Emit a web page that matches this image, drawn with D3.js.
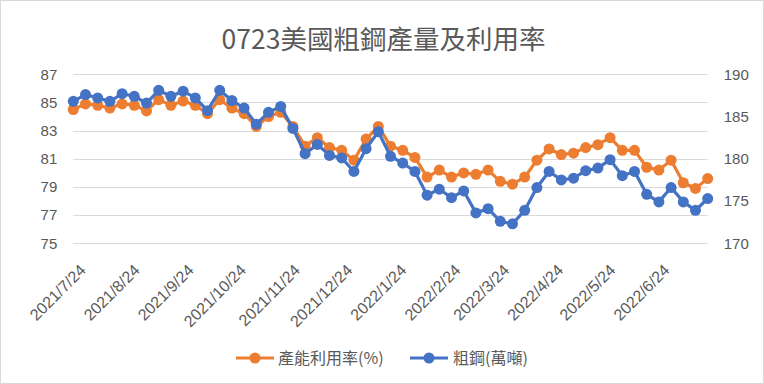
<!DOCTYPE html>
<html>
<head>
<meta charset="utf-8">
<script src="https://cdn.jsdelivr.net/npm/d3@7"></script>
<style>
  html, body { margin: 0; padding: 0; background: #fff; }
  svg { display: block; font-family: "Noto Sans CJK TC", "Noto Sans", sans-serif; }
</style>
</head>
<body>
<svg id="chart" width="764" height="384"></svg>
<script>
const title = '0723美國粗鋼產量及利用率';

const dates = [
  '2021-07-24', '2021-07-31', '2021-08-07', '2021-08-14', '2021-08-21', '2021-08-28',
  '2021-09-04', '2021-09-11', '2021-09-18', '2021-09-25', '2021-10-02', '2021-10-09',
  '2021-10-16', '2021-10-23', '2021-10-30', '2021-11-06', '2021-11-13', '2021-11-20',
  '2021-11-27', '2021-12-04', '2021-12-11', '2021-12-18', '2021-12-25', '2022-01-01',
  '2022-01-08', '2022-01-15', '2022-01-22', '2022-01-29', '2022-02-05', '2022-02-12',
  '2022-02-19', '2022-02-26', '2022-03-05', '2022-03-12', '2022-03-19', '2022-03-26',
  '2022-04-02', '2022-04-09', '2022-04-16', '2022-04-23', '2022-04-30', '2022-05-07',
  '2022-05-14', '2022-05-21', '2022-05-28', '2022-06-04', '2022-06-11', '2022-06-18',
  '2022-06-25', '2022-07-02', '2022-07-09', '2022-07-16', '2022-07-23'
];

// 產能利用率(%) - left axis
const utilization = [
  84.5, 84.9, 84.8, 84.6, 84.9, 84.8, 84.4, 85.2, 84.8, 85.1, 84.8, 84.2,
  85.2, 84.6, 84.2, 83.3, 84.0, 84.3, 83.3, 81.9, 82.5, 81.8, 81.6, 80.9,
  82.4, 83.3, 81.9, 81.6, 81.1, 79.7, 80.2, 79.7, 80.0, 79.9, 80.2, 79.4,
  79.2, 79.7, 80.9, 81.7, 81.3, 81.4, 81.8, 82.0, 82.5, 81.6, 81.6, 80.4,
  80.2, 80.9, 79.3, 78.9, 79.6
];

// 粗鋼(萬噸) - right axis
const production = [
  186.8, 187.6, 187.2, 186.8, 187.7, 187.4, 186.6, 188.1, 187.4, 188.0, 187.2, 185.7,
  188.1, 186.9, 186.0, 184.1, 185.5, 186.2, 183.6, 180.6, 181.7, 180.4, 180.1, 178.5,
  181.2, 183.2, 180.3, 179.5, 178.5, 175.7, 176.4, 175.4, 176.2, 173.6, 174.1, 172.6,
  172.3, 173.9, 176.6, 178.5, 177.5, 177.7, 178.6, 178.9, 179.9, 178.0, 178.5, 175.8,
  174.9, 176.6, 174.9, 173.9, 175.3
];

const leftTicks = [75, 77, 79, 81, 83, 85, 87];
const rightTicks = [170, 175, 180, 185, 190];
const xTickDates = [
  '2021-07-24', '2021-08-24', '2021-09-24', '2021-10-24', '2021-11-24', '2021-12-24',
  '2022-01-24', '2022-02-24', '2022-03-24', '2022-04-24', '2022-05-24', '2022-06-24'
];

const seriesNames = ['產能利用率(%)', '粗鋼(萬噸)'];
const colors = ['#ED7D31', '#4472C4'];
const textColor = '#595959';

const svg = d3.select('#chart');
const width = 764;
const height = 384;

const plot = { left: 73.3, right: 707.7, top: 74.3, bottom: 243.3 };
const parseDate = d3.utcParse('%Y-%m-%d');
const formatTick = d3.utcFormat('%Y/%-m/%-d');

const x = d3
  .scaleUtc()
  .domain([parseDate(dates[0]), parseDate(dates[dates.length - 1])])
  .range([plot.left, plot.right]);

const yLeft = d3.scaleLinear().domain([75, 87]).range([plot.bottom, plot.top]);
const yRight = d3.scaleLinear().domain([170, 190]).range([plot.bottom, plot.top]);

// chart border
svg
  .append('rect')
  .attr('x', 0.5)
  .attr('y', 0.5)
  .attr('width', width - 1)
  .attr('height', height - 1)
  .attr('fill', '#fff')
  .attr('stroke', '#d9d9d9');

svg
  .append('text')
  .attr('x', 383.5)
  .attr('y', 49)
  .attr('text-anchor', 'middle')
  .attr('fill', textColor)
  .style('font-size', '26.5px')
  .text(title);

// gridlines
svg
  .append('g')
  .selectAll('line')
  .data(leftTicks)
  .join('line')
  .attr('x1', plot.left)
  .attr('x2', plot.right)
  .attr('y1', (d) => Math.round(yLeft(d)) + 0.5)
  .attr('y2', (d) => Math.round(yLeft(d)) + 0.5)
  .attr('stroke', '#d9d9d9')
  .attr('stroke-width', 1);

// left axis
const leftAxis = svg
  .append('g')
  .attr('transform', `translate(${plot.left - 16},0)`)
  .call(d3.axisLeft(yLeft).tickValues(leftTicks).tickSize(0).tickPadding(0));
leftAxis.select('.domain').remove();
leftAxis
  .selectAll('text')
  .attr('fill', textColor)
  .style('font-size', '15px')
  .style('font-family', null);

// right axis
const rightAxis = svg
  .append('g')
  .attr('transform', `translate(${plot.right + 16},0)`)
  .call(d3.axisRight(yRight).tickValues(rightTicks).tickSize(0).tickPadding(0));
rightAxis.select('.domain').remove();
rightAxis
  .selectAll('text')
  .attr('fill', textColor)
  .style('font-size', '15px')
  .style('font-family', null);

// x axis labels, rotated
const xAxis = svg
  .append('g')
  .attr('transform', `translate(0,${plot.bottom})`)
  .call(
    d3
      .axisBottom(x)
      .tickValues(xTickDates.map(parseDate))
      .tickFormat(formatTick)
      .tickSize(0)
      .tickPadding(0),
  );
xAxis.select('.domain').remove();
xAxis
  .selectAll('text')
  .attr('fill', textColor)
  .style('font-size', '16px')
  .style('font-family', null)
  .attr('text-anchor', 'end')
  .attr('dy', '0.35em')
  .attr('y', 0)
  .attr('transform', 'translate(9,24) rotate(-45)');

// series
const seriesData = [
  dates.map((d, i) => ({ date: parseDate(d), value: utilization[i] })),
  dates.map((d, i) => ({ date: parseDate(d), value: production[i] })),
];
const scales = [yLeft, yRight];

seriesData.forEach((data, s) => {
  const yScale = scales[s];
  const line = d3
    .line()
    .x((d) => x(d.date))
    .y((d) => yScale(d.value));

  const g = svg.append('g');
  g.append('path')
    .datum(data)
    .attr('d', line)
    .attr('fill', 'none')
    .attr('stroke', colors[s])
    .attr('stroke-width', 3.2)
    .attr('stroke-linejoin', 'round');

  g.selectAll('circle')
    .data(data)
    .join('circle')
    .attr('cx', (d) => x(d.date))
    .attr('cy', (d) => yScale(d.value))
    .attr('r', 5.5)
    .attr('fill', colors[s]);
});

// legend
const legendItems = [
  { x: 236, textX: 278 },
  { x: 410, textX: 453 },
];
const legend = svg
  .append('g')
  .selectAll('g')
  .data(seriesNames)
  .join('g');

legend
  .append('line')
  .attr('x1', (d, i) => legendItems[i].x)
  .attr('x2', (d, i) => legendItems[i].x + 38)
  .attr('y1', 358)
  .attr('y2', 358)
  .attr('stroke', (d, i) => colors[i])
  .attr('stroke-width', 3.2);

legend
  .append('circle')
  .attr('cx', (d, i) => legendItems[i].x + 19)
  .attr('cy', 358)
  .attr('r', 5.5)
  .attr('fill', (d, i) => colors[i]);

legend
  .append('text')
  .attr('x', (d, i) => legendItems[i].textX)
  .attr('y', 358)
  .attr('dy', '0.35em')
  .attr('fill', textColor)
  .style('font-size', '16px')
  .text((d) => d);
</script>
</body>
</html>
